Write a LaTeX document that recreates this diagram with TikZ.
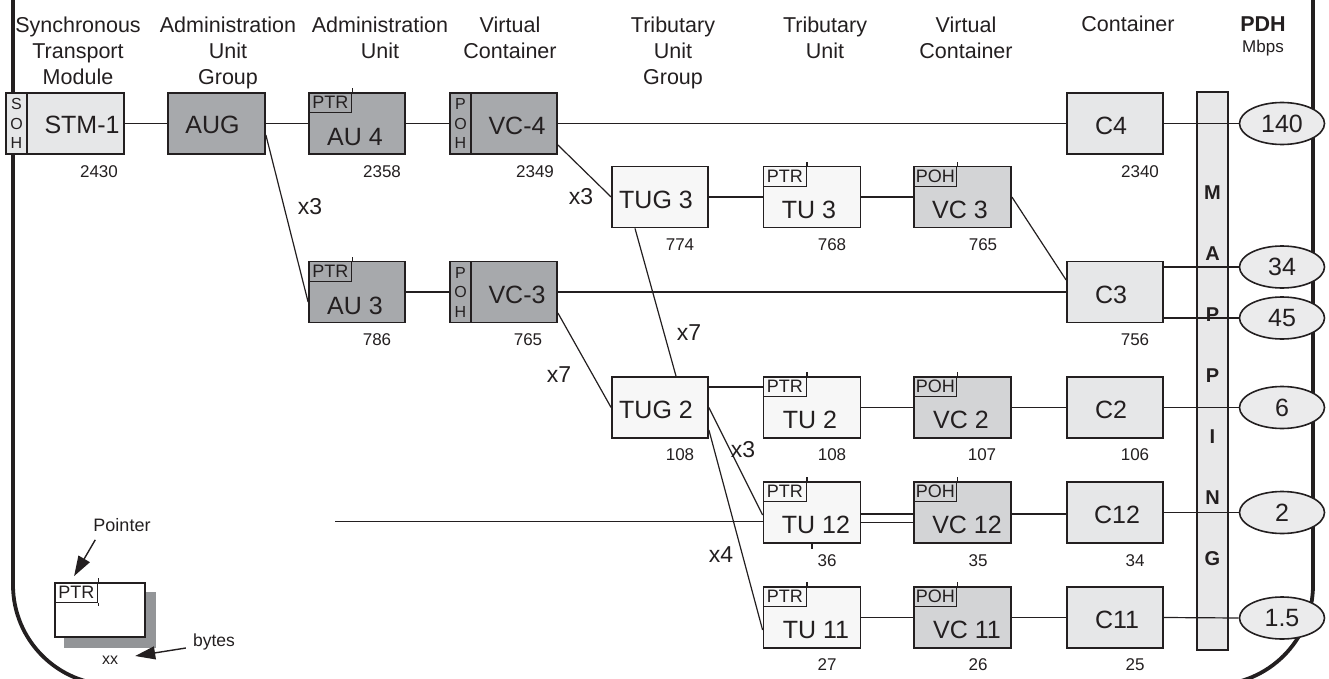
\documentclass[tikz,border=0pt]{standalone}
\usepackage{fontspec}
\setmainfont{Liberation Sans}
\usetikzlibrary{shapes.geometric,arrows.meta}
\pgfdeclarelayer{bg}\pgfdeclarelayer{mid}\pgfsetlayers{bg,mid,main}
\definecolor{cline}{HTML}{231F20}
\definecolor{cdark}{HTML}{A7A9AC}
\definecolor{clight}{HTML}{E6E7E8}
\definecolor{cvc}{HTML}{D3D4D6}
\definecolor{ctu}{HTML}{F7F7F7}
\definecolor{cbar}{HTML}{E8E8E9}
\definecolor{cell}{HTML}{EBEBEC}
\definecolor{cshadow}{HTML}{939598}
\newcommand\fhead{\fontsize{21.5}{26}\selectfont}
\newcommand\flab{\fontsize{25}{28}\selectfont}
\newcommand\fnum{\fontsize{17}{20}\selectfont}
\newcommand\fsmall{\fontsize{18}{20}\selectfont}
\newcommand\fmul{\fontsize{23}{26}\selectfont}
\newcommand\fstrip{\fontsize{16}{19.5}\selectfont}
\newcommand\fmap{\bfseries\fontsize{20}{24}\selectfont}
\tikzset{
  box/.style={draw=cline, line width=1.8pt, minimum width=96pt, minimum height=61pt, inner sep=0pt},
  ptrbox/.style={draw=cline, line width=1.3pt, minimum width=43pt, minimum height=20pt, inner sep=0pt, anchor=north west, font=\fsmall, text=cline},
  ohstrip/.style={draw=cline, line width=1.8pt, minimum width=21pt, minimum height=61pt, inner sep=0pt, anchor=north west, align=center, font=\fstrip, text=cline},
  lab/.style={inner sep=0pt, font=\flab, text=cline},
  num/.style={inner sep=0pt, font=\fnum, text=cline},
  mul/.style={inner sep=0pt, font=\fmul, text=cline},
  head/.style={inner sep=0pt, anchor=north, align=center, font=\fhead, text=cline},
  conn/.style={draw=cline, line width=1.2pt},
  tick/.style={draw=cline, line width=1.2pt},
  pdh/.style={ellipse, draw=cline, line width=1.6pt, fill=cell, minimum width=85pt, minimum height=42pt, inner sep=0pt, font=\flab, text=cline},
  maplet/.style={inner sep=0pt, font=\fmap, text=cline},
  arr/.style={draw=cline, line width=1.4pt, -{Triangle[length=20pt,width=13pt]}}
}
\begin{document}
\begin{tikzpicture}[x=1pt,y=-1pt]
\useasboundingbox (0,0) rectangle (1329,679);
\clip (0,0) rectangle (1329,679);

% headers
\node[head] (h1) at (78,16.3) {Synchronous\\Transport\\Module};
\node[head] (h2) at (228,16.3) {Administration\\Unit\\Group};
\node[head] (h3) at (380,16.3) {Administration\\Unit};
\node[head] (h4) at (510,16.3) {Virtual\\Container};
\node[head] (h5) at (673,16.3) {Tributary\\Unit\\Group};
\node[head] (h6) at (825,16.3) {Tributary\\Unit};
\node[head] (h7) at (966,16.3) {Virtual\\Container};
\node[head, anchor=base] (h8) at (1128,32) {Container};
\node[anchor=base, inner sep=0pt, font=\bfseries\fhead, text=cline] (h9) at (1263,32) {PDH};
\node[anchor=base, inner sep=0pt, font=\fontsize{17}{20}\selectfont, text=cline] (h10) at (1263,53) {Mbps};

% row 1
\node[box, fill=clight, minimum width=118pt] (STM) at (65,123.5) {};
\node[ohstrip, fill=clight] (SOH) at (STM.north west) {S\\O\\H};
\node[lab] (tSTM) at (82,125) {STM-1};
\node[box, fill=cdark, minimum width=97pt] (AUG) at (216.5,123.5) {};
\node[lab] (tAUG) at (212.5,125) {AUG};
\node[box, fill=cdark] (AU4) at (357,123.5) {};
\node[ptrbox] (pAU4) at (AU4.north west) {PTR};
\draw[tick] (pAU4.north east) -- ++(0,-4);
\node[lab] (tAU4) at (355,137) {AU 4};
\node[box, fill=cdark, minimum width=107pt] (VC4) at (503.5,123.5) {};
\node[ohstrip, fill=cdark] (pVC4) at (VC4.north west) {P\\O\\H};
\node[lab] (tVC4) at (517,126) {VC-4};
\node[box, fill=clight] (C4) at (1115,123.5) {};
\node[lab] (tC4) at (1111,126) {C4};

% row AU3
\node[box, fill=cdark] (AU3) at (357,292) {};
\node[ptrbox] (pAU3) at (AU3.north west) {PTR};
\draw[tick] (pAU3.north east) -- ++(0,-4);
\node[lab] (tAU3) at (355,306) {AU 3};
\node[box, fill=cdark, minimum width=107pt] (VC3b) at (503.5,292) {};
\node[ohstrip, fill=cdark] (pVC3b) at (VC3b.north west) {P\\O\\H};
\node[lab] (tVC3b) at (517,295) {VC-3};
\node[box, fill=clight] (C3) at (1115,292) {};
\node[lab] (tC3) at (1111,294.5) {C3};

% row TUG3
\node[box, fill=ctu] (TUG3) at (660,197) {};
\node[lab] (tTUG3) at (656,200) {TUG 3};
\node[box, fill=ctu, minimum width=97pt] (TU3) at (812,197) {};
\node[ptrbox] (pTU3) at (TU3.north west) {PTR};
\draw[tick] (pTU3.north east) -- ++(0,-4);
\node[lab] (tTU3) at (809,210) {TU 3};
\node[box, fill=cvc, minimum width=97pt] (VC3) at (962.5,197) {};
\node[ptrbox] (pVC3) at (VC3.north west) {POH};
\draw[tick] (pVC3.north east) -- ++(0,-4);
\node[lab] (tVC3) at (960,210) {VC 3};

% row TUG2
\node[box, fill=ctu] (TUG2) at (660,407.5) {};
\node[lab] (tTUG2) at (656,410) {TUG 2};
\node[box, fill=ctu, minimum width=97pt] (TU2) at (812,407.5) {};
\node[ptrbox] (pTU2) at (TU2.north west) {PTR};
\draw[tick] (pTU2.north east) -- ++(0,-4);
\node[lab] (tTU2) at (810,420) {TU 2};
\node[box, fill=cvc, minimum width=97pt] (VC2) at (962.5,407.5) {};
\node[ptrbox] (pVC2) at (VC2.north west) {POH};
\draw[tick] (pVC2.north east) -- ++(0,-4);
\node[lab] (tVC2) at (961,420) {VC 2};
\node[box, fill=clight] (C2) at (1115,407.5) {};
\node[lab] (tC2) at (1111,410) {C2};

% row 12
\node[box, fill=ctu, minimum width=97pt] (TU12) at (812,512.5) {};
\node[ptrbox] (pTU12) at (TU12.north west) {PTR};
\draw[tick] (pTU12.north east) -- ++(0,-4);
\draw[tick] (TU12.south) -- ++(0,5);
\node[lab] (tTU12) at (816,525) {TU 12};
\node[box, fill=cvc, minimum width=97pt] (VC12) at (962.5,512.5) {};
\node[ptrbox] (pVC12) at (VC12.north west) {POH};
\draw[tick] (pVC12.north east) -- ++(0,-4);
\node[lab] (tVC12) at (967,525) {VC 12};
\node[box, fill=clight] (C12) at (1115,512.5) {};
\node[lab] (tC12) at (1117,515) {C12};

% row 11
\node[box, fill=ctu, minimum width=97pt] (TU11) at (812,617.5) {};
\node[ptrbox] (pTU11) at (TU11.north west) {PTR};
\draw[tick] (pTU11.north east) -- ++(0,-4);
\node[lab] (tTU11) at (816,630) {TU 11};
\node[box, fill=cvc, minimum width=97pt] (VC11) at (962.5,617.5) {};
\node[ptrbox] (pVC11) at (VC11.north west) {POH};
\draw[tick] (pVC11.north east) -- ++(0,-4);
\node[lab] (tVC11) at (967,630) {VC 11};
\node[box, fill=clight] (C11) at (1115,617.5) {};
\node[lab] (tC11) at (1117,620) {C11};

% numbers
\node[num] (n1) at (99,172) {2430};
\node[num] (n2) at (382,172) {2358};
\node[num] (n3) at (535,172) {2349};
\node[num] (n4) at (1140,172) {2340};
\node[num] (n5) at (680,245) {774};
\node[num] (n6) at (832,245) {768};
\node[num] (n7) at (983,245) {765};
\node[num] (n8) at (377,340) {786};
\node[num] (n9) at (528,340) {765};
\node[num] (n10) at (1135,340) {756};
\node[num] (n11) at (680,455) {108};
\node[num] (n12) at (832,455) {108};
\node[num] (n13) at (982,455) {107};
\node[num] (n14) at (1135,455) {106};
\node[num] (n15) at (827,561) {36};
\node[num] (n16) at (978,561) {35};
\node[num] (n17) at (1135,561) {34};
\node[num] (n18) at (827,665) {27};
\node[num] (n19) at (978,665) {26};
\node[num] (n20) at (1135,665) {25};

% multipliers
\node[mul] (m1) at (310,207) {x3};
\node[mul] (m2) at (581,197) {x3};
\node[mul] (m3) at (689,333) {x7};
\node[mul] (m4) at (559,375) {x7};
\node[mul] (m5) at (743,450) {x3};
\node[mul] (m6) at (721,555) {x4};

% PDH ellipses
\node[pdh] (E140) at (1282,123.5) {140};
\node[pdh] (E34) at (1282,267) {34};
\node[pdh] (E45) at (1282,318) {45};
\node[pdh] (E6) at (1282,407.5) {6};
\node[pdh] (E2) at (1282,512.5) {2};
\node[pdh] (E15) at (1282,618) {1.5};

% legend
\node[fill=cshadow, minimum width=92pt, minimum height=56pt, inner sep=0pt] (legsh) at (110,620) {};
\node[draw=cline, line width=1.8pt, fill=white, minimum width=90pt, minimum height=54pt, inner sep=0pt] (leg) at (100,610) {};
\node[ptrbox] (legp) at (leg.north west) {PTR};
\draw[tick] (legp.north east) -- ++(0,-4);
\draw[tick] (legp.south east) -- ++(0,3);
\node[inner sep=0pt, font=\fsmall, text=cline] (pointer) at (122,525) {Pointer};
\node[inner sep=0pt, font=\fontsize{17.5}{20}\selectfont, text=cline] (bytes) at (214,642) {bytes};
\node[inner sep=0pt, font=\fontsize{16}{18}\selectfont, text=cline] (xx) at (110,660) {xx};
\draw[arr] ([xshift=2pt,yshift=-8pt]pointer.south west) -- ([xshift=20pt,yshift=6pt]leg.north west);
\draw[arr] ([xshift=-7pt,yshift=-6pt]bytes.west) -- ([xshift=17pt,yshift=4pt]xx.east);

% background: frame and mapping bar
\begin{pgfonlayer}{bg}
\draw[cline, line width=3.8pt, rounded corners=100pt] (13,-60) -- (13,685) -- (1313,685) -- (1313,-60);
\node[draw=cline, line width=1.6pt, fill=cbar, minimum width=31pt, minimum height=558pt, inner sep=0pt] (MAP) at (1212.5,371) {};
\end{pgfonlayer}
\node[maplet] (l1) at (1212.5,193) {M};
\node[maplet] (l2) at (1212.5,254) {A};
\node[maplet] (l3) at (1212.5,315) {P};
\node[maplet] (l4) at (1212.5,376) {P};
\node[maplet] (l5) at (1212.5,437) {I};
\node[maplet] (l6) at (1212.5,498) {N};
\node[maplet] (l7) at (1212.5,559) {G};

% connectors
\coordinate (LS) at (335,521);
\begin{pgfonlayer}{mid}
\draw[conn] (STM.east) -- (AUG.west);
\draw[conn] (AUG.east) -- (AU4.west);
\draw[conn] (AU4.east) -- (VC4.west);
\draw[conn] (VC4.east) -- (C4.west);
\draw[conn] (C4.east) -- (E140.west);
\draw[conn] ([yshift=-11.5pt]AUG.east) -- ([yshift=-10pt]AU3.west);
\draw[conn] (AU3.east) -- (VC3b.west);
\draw[conn] (VC3b.east) -- (C3.west);
\draw[conn] ([yshift=-21.5pt]VC4.east) -- (TUG3.west);
\draw[conn] (TUG3.east) -- (TU3.west);
\draw[conn] (TU3.east) -- (VC3.west);
\draw[conn] (VC3.east) -- ([yshift=12pt]C3.west);
\draw[conn] ([yshift=25pt]C3.east) -- (E34.west);
\draw[conn] ([yshift=-26pt]C3.east) -- (E45.west);
\draw[conn] ([xshift=-25pt]TUG3.south) -- ([xshift=16pt]TUG2.north);
\draw[conn] ([yshift=-21pt]VC3b.east) -- (TUG2.west);
\draw[conn] ([yshift=20.5pt]TUG2.east) -- ([yshift=20.5pt]TU2.west);
\draw[conn] (TU2.east) -- (VC2.west);
\draw[conn] (VC2.east) -- (C2.west);
\draw[conn] (C2.east) -- (E6.west);
\draw[conn] (TUG2.east) -- ([yshift=-2.5pt]TU12.west);
\draw[conn] ([yshift=-22.5pt]TUG2.east) -- ([yshift=-12.5pt]TU11.west);
\draw[conn, line width=1pt] (LS) -- ([yshift=-8.5pt]TU12.west);
\draw[conn, line width=1.8pt] ([yshift=-1.5pt]TU12.east) -- ([yshift=-1.5pt]VC12.west);
\draw[conn, line width=1pt] ([yshift=-9.5pt]TU12.east) -- ([yshift=-9.5pt]VC12.west);
\draw[conn] ([yshift=-1.5pt]VC12.east) -- ([yshift=-1.5pt]C12.west);
\draw[conn] (C12.east) -- (E2.west);
\draw[conn] (TU11.east) -- (VC11.west);
\draw[conn] (VC11.east) -- (C11.west);
\draw[conn] (C11.east) -- (E15.west);
\end{pgfonlayer}
\end{tikzpicture}
\end{document}
